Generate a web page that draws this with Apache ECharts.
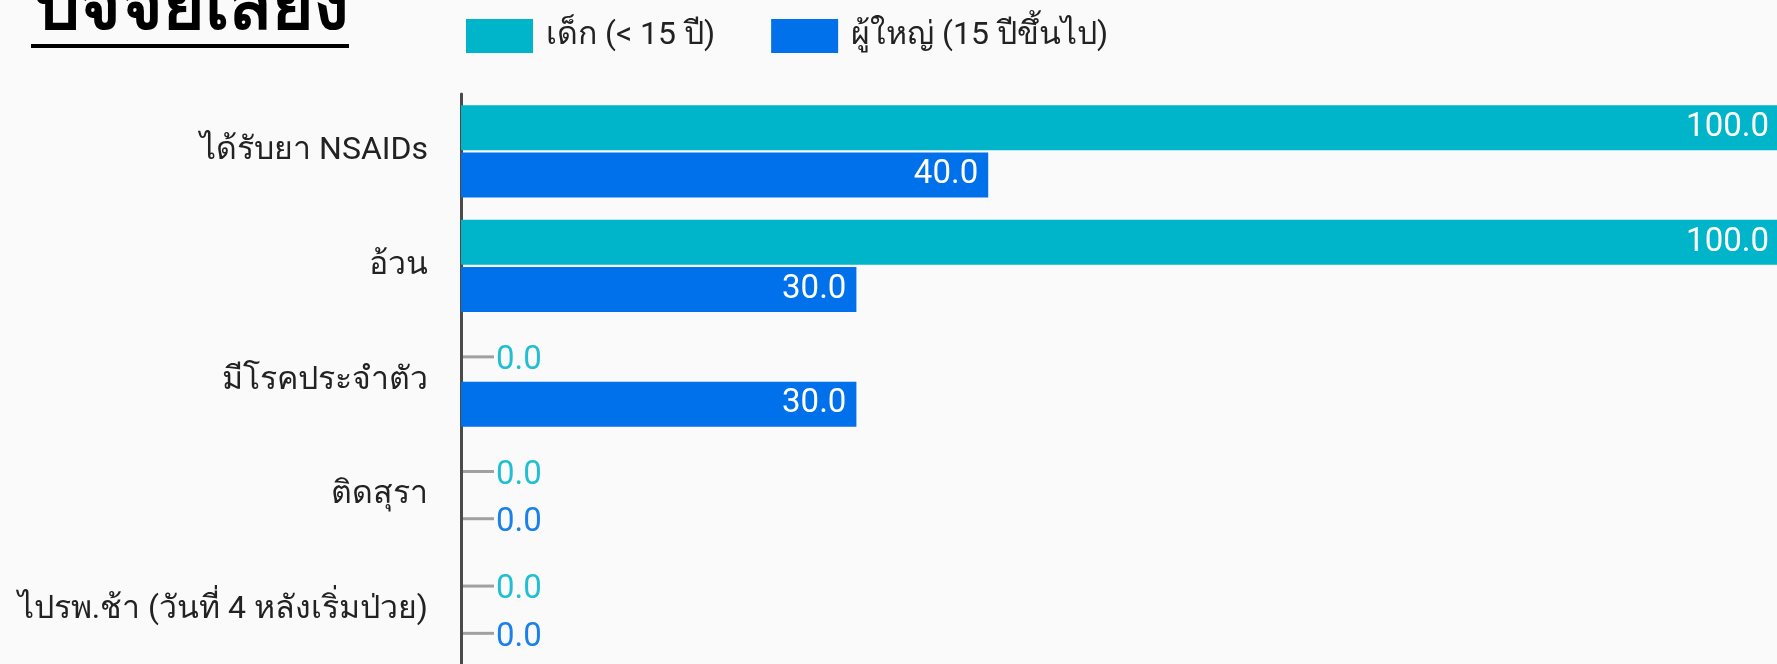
<!DOCTYPE html>
<html>
<head>
<meta charset="utf-8">
<title>ปัจจัยเสี่ยง</title>
<script src="https://cdn.jsdelivr.net/npm/echarts@6/dist/echarts.min.js"></script>
<style>
  html, body { margin: 0; padding: 0; background: #fafafa; }
  #chart { width: 1777px; height: 664px; }
</style>
</head>
<body>
<div id="chart"></div>
<script>
// ข้อมูลของกราฟ
const categories = ['ได้รับยา NSAIDs', 'อ้วน', 'มีโรคประจำตัว', 'ติดสุรา', 'ไปรพ.ช้า (วันที่ 4 หลังเริ่มป่วย)']
const seriesNames = ['เด็ก (< 15 ปี)', 'ผู้ใหญ่ (15 ปีขึ้นไป)']
const childValues = [100, 100, 0, 0, 0]
const adultValues = [40, 30, 30, 0, 0]

const FONT = 'Roboto, "Noto Sans", sans-serif'
const barColors = ['#00b5c9', '#0070eb']
const zeroColors = ['#22bfd4', '#1a80ea']

// label: ค่า 0 ให้แสดงนอกแท่งพร้อมเส้นเล็ก ๆ, ค่าอื่นแสดงในแท่ง
function makeData(values, idx) {
  return values.map((v) => {
    if (v === 0) {
      return {
        value: v,
        label: {
          position: 'right',
          distance: 2,
          formatter: '{line|}{z|' + v.toFixed(1) + '}',
          rich: {
            line: { width: 31, height: 3, backgroundColor: '#a0a0a0' },
            z: { color: zeroColors[idx], fontSize: 33, fontWeight: 'normal', fontFamily: FONT, padding: [8, 0, 0, 2] }
          }
        }
      }
    }
    return v
  })
}

const chart = echarts.init(document.getElementById('chart'))
const option = {
  backgroundColor: '#fafafa',
  animation: false,
  title: {
    text: 'ปัจจัยเสี่ยง',
    left: 29,
    top: -29,
    textStyle: { fontSize: 71, fontWeight: 'bold', color: '#000', fontFamily: FONT }
  },
  graphic: [{
    // เส้นใต้หัวข้อ
    type: 'rect',
    left: 31,
    top: 44,
    shape: { width: 318, height: 4 },
    style: { fill: '#000' }
  }],
  legend: {
    left: 461,
    top: 14,
    icon: 'rect',
    itemWidth: 67,
    itemHeight: 34,
    itemGap: 56,
    itemStyle: { borderWidth: 0 },
    textStyle: { fontSize: 32, color: '#222', fontFamily: FONT, padding: [0, 0, 0, 8] },
    data: seriesNames
  },
  grid: {
    left: 461,
    right: -2,
    top: 94,
    bottom: -3,
    containLabel: false,
    outerBoundsMode: 'none'
  },
  xAxis: {
    type: 'value',
    min: 0,
    max: 100,
    show: false
  },
  yAxis: {
    type: 'category',
    inverse: true,
    data: categories,
    axisLine: { show: true, lineStyle: { color: '#4a4a4a', width: 3 } },
    axisTick: { show: false },
    axisLabel: { margin: 33, fontSize: 32, color: '#222', fontFamily: FONT }
  },
  series: [0, 1].map((i) => ({
    name: seriesNames[i],
    type: 'bar',
    data: makeData(i === 0 ? childValues : adultValues, i),
    barWidth: 45,
    barGap: '5%',
    itemStyle: { color: barColors[i] },
    label: {
      show: true,
      position: 'insideRight',
      distance: 10,
      color: '#fff',
      fontSize: 33,
      fontFamily: FONT,
      formatter: (p) => p.value.toFixed(1)
    }
  }))
}
chart.setOption(option)
</script>
</body>
</html>
